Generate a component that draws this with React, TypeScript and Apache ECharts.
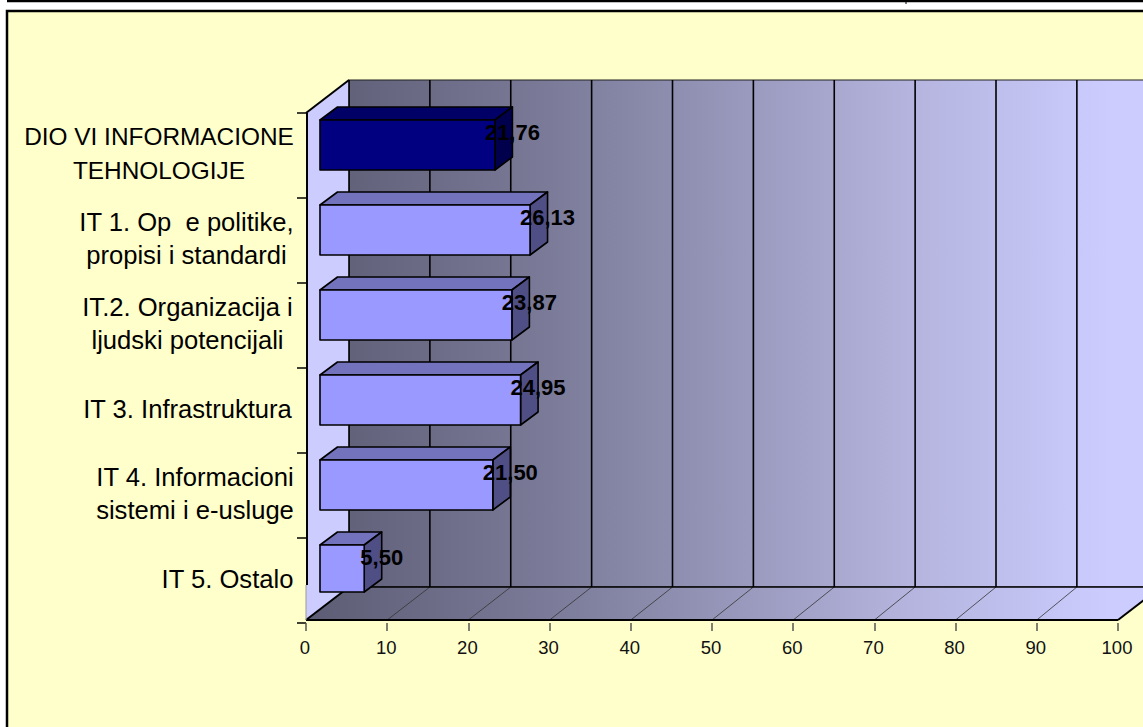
import React, { useEffect, useRef } from "react";
import * as echarts from "echarts";

const categories = [
  "DIO VI INFORMACIONE\nTEHNOLOGIJE",
  "IT 1. Op  e politike,\npropisi i standardi",
  "IT.2. Organizacija i\nljudski potencijali",
  "IT 3. Infrastruktura",
  "IT 4. Informacioni\nsistemi i e-usluge",
  "IT 5. Ostalo",
];
const values = [21.76, 26.13, 23.87, 24.95, 21.5, 5.5];
const valueLabels = ["21,76", "26,13", "23,87", "24,95", "21,50", "5,50"];
const xTicks = [0, 10, 20, 30, 40, 50, 60, 70, 80, 90, 100];

// layout only
const labelCenterX = [159, 186.5, 187.5, 187.5, 195, 227.5];
const labelFontSize = [24.4, 25.6, 25.6, 25.6, 25.6, 25.6];
const FONT = '"Liberation Sans", Arial, sans-serif';
const DX = 43;
const DY = -33;
const FLOOR_Y = 620;
const BAR_H = 50;
const BACK_SCALE = 0.996;
const BAR_SCALE = 0.99;

const wallFill = () =>
  new echarts.graphic.LinearGradient(
    306, 0, 1110, 0,
    [
      { offset: 0, color: "#5c5c74" },
      { offset: 0.35, color: "#80809f" },
      { offset: 0.75, color: "#b4b4de" },
      { offset: 1, color: "#ccccff" },
    ],
    true
  );

export default function App() {
  const ref = useRef<HTMLDivElement>(null);
  useEffect(() => {
    const chart = echarts.init(ref.current!, undefined, { renderer: "svg" });

    const renderFrame = (params: any, api: any) => {
      const cs = params.coordSys;
      const x0 = cs.x;
      const x1 = cs.x + cs.width;
      const top = cs.y;
      const back = (x: number) => x0 + DX + (x - x0) * BACK_SCALE;
      const children: any[] = [];
      const black = { stroke: "#000", lineWidth: 1.6 };
      // back wall
      children.push({
        type: "rect",
        shape: { x: x0 + DX, y: top + DY, width: cs.width, height: FLOOR_Y - top },
        style: { fill: wallFill(), stroke: "#222", lineWidth: 1.2 },
      });
      // floor
      children.push({
        type: "polygon",
        shape: { points: [[x0, FLOOR_Y], [x0 + DX, FLOOR_Y + DY], [x1 + DX, FLOOR_Y + DY], [x1, FLOOR_Y]] },
        style: { fill: wallFill() },
      });
      // left wall
      children.push({
        type: "polygon",
        shape: { points: [[x0, top], [x0 + DX, top + DY], [x0 + DX, FLOOR_Y + DY], [x0, FLOOR_Y]] },
        style: { fill: "#ccccff" },
      });
      xTicks.forEach((t) => {
        const x = api.coord([t, 0])[0];
        if (t > 0 && t < 100) {
          children.push({
            type: "line",
            shape: { x1: back(x), y1: top + DY, x2: back(x), y2: FLOOR_Y + DY },
            style: black,
          });
        }
        children.push({
          type: "line",
          shape: { x1: x, y1: FLOOR_Y, x2: t === 100 ? x + DX : back(x), y2: FLOOR_Y + DY },
          style: t === 0 || t === 100 ? { stroke: "#000", lineWidth: 2 } : { stroke: "#333", lineWidth: 0.8 },
        });
      });
      // wall edges
      children.push(
        { type: "line", shape: { x1: x0 + DX, y1: top + DY, x2: x0 + DX, y2: FLOOR_Y + DY }, style: black },
        { type: "line", shape: { x1: x0 + DX, y1: FLOOR_Y + DY, x2: x1 + DX, y2: FLOOR_Y + DY }, style: black },
        { type: "line", shape: { x1: x0, y1: FLOOR_Y, x2: x1, y2: FLOOR_Y }, style: { stroke: "#000", lineWidth: 2 } },
        { type: "line", shape: { x1: x0, y1: top, x2: x0 + DX, y2: top + DY }, style: { stroke: "#000", lineWidth: 2 } },
        { type: "line", shape: { x1: x0 + 1, y1: top, x2: x0 + 1, y2: FLOOR_Y + DY - 2 }, style: { stroke: "#000", lineWidth: 2 } },
        { type: "line", shape: { x1: x0, y1: FLOOR_Y + DY - 2, x2: x0, y2: FLOOR_Y }, style: { stroke: "#999", lineWidth: 1 } }
      );
      return { type: "group", children };
    };

    const renderBar = (params: any, api: any) => {
      const i = api.value(1);
      const [x0, yc] = api.coord([0, i]);
      const xv = api.coord([api.value(0), i])[0];
      const L = x0 + 14;
      const R = L + (xv - x0) * BAR_SCALE;
      const T = yc - 10.5 - BAR_H / 2;
      const B = Math.min(yc - 10.5 + BAR_H / 2, 592);
      const d = 17.5;
      const u = 13;
      const first = i === 0;
      const stroke = { stroke: "#000", lineWidth: 1.6, lineJoin: "round" };
      return {
        type: "group",
        children: [
          {
            type: "polygon",
            shape: { points: [[L, T], [L + d, T - u], [R + d, T - u], [R, T]] },
            style: { fill: first ? "#000066" : "#7272bd", ...stroke },
          },
          {
            type: "polygon",
            shape: { points: [[R, T], [R + d, T - u], [R + d, B - u], [R, B]] },
            style: { fill: first ? "#00004d" : "#4f4f85", ...stroke },
          },
          {
            type: "rect",
            shape: { x: L, y: T, width: R - L, height: B - T },
            style: { fill: first ? "#000080" : "#9999ff", ...stroke },
          },
          {
            type: "text",
            style: {
              text: valueLabels[i],
              x: R + d,
              y: yc - 23,
              align: "center",
              verticalAlign: "middle",
              fontFamily: FONT,
              fontWeight: "bold",
              fontSize: 22,
              fill: "#000",
            },
          },
        ],
      };
    };

    const renderCategory = (params: any, api: any) => {
      const i = api.value(1);
      const yc = api.coord([0, i])[1];
      return {
        type: "text",
        style: {
          text: categories[i],
          x: labelCenterX[i],
          y: yc - 2,
          align: "center",
          verticalAlign: "middle",
          fontFamily: FONT,
          fontSize: labelFontSize[i],
          lineHeight: 33.5,
          fill: "#000",
        },
      };
    };

    chart.setOption({
      animation: false,
      backgroundColor: "#ffffff",
      graphic: [
        {
          type: "rect",
          z: -10,
          shape: { x: 7, y: 11, width: 1160, height: 740 },
          style: { fill: "#ffffcc", stroke: "#000", lineWidth: 2.5 },
        },
        { type: "line", z: -10, shape: { x1: 7, y1: 1, x2: 1143, y2: 1 }, style: { stroke: "#000", lineWidth: 2.5 } },
        { type: "line", z: -10, shape: { x1: 906, y1: 0, x2: 906, y2: 4 }, style: { stroke: "#000", lineWidth: 1 } },
      ],
      grid: { left: 306, top: 113, width: 812, height: 510, containLabel: false },
      xAxis: {
        type: "value",
        min: 0,
        max: 100,
        interval: 10,
        axisLine: { show: false },
        splitLine: { show: false },
        axisTick: { show: true, length: 8, lineStyle: { color: "#555", width: 1.5 } },
        axisLabel: { margin: 15, color: "#111", fontFamily: FONT, fontSize: 18.5, padding: [0, 2, 0, 0] },
      },
      yAxis: {
        type: "category",
        inverse: true,
        data: categories,
        axisLine: { show: false },
        splitLine: { show: false },
        axisTick: { show: true, length: 9, lineStyle: { color: "#000", width: 1.5 } },
        axisLabel: { show: false },
      },
      series: [
        {
          type: "custom",
          z: 1,
          clip: false,
          silent: true,
          renderItem: renderFrame,
          data: [[0, 0]],
          encode: { x: 0, y: 1 },
        },
        {
          type: "custom",
          z: 3,
          clip: false,
          silent: true,
          renderItem: renderCategory,
          data: categories.map((c, i) => [0, i]),
          encode: { x: 0, y: 1 },
        },
        {
          type: "custom",
          z: 4,
          clip: false,
          silent: true,
          renderItem: renderBar,
          data: values.map((v, i) => [v, i]),
          encode: { x: 0, y: 1 },
        },
      ],
    });
    return () => chart.dispose();
  }, []);
  return (
    <div
      ref={ref}
      style={{ position: "fixed", left: 0, top: 0, width: 1143, height: 727 }}
    />
  );
}
